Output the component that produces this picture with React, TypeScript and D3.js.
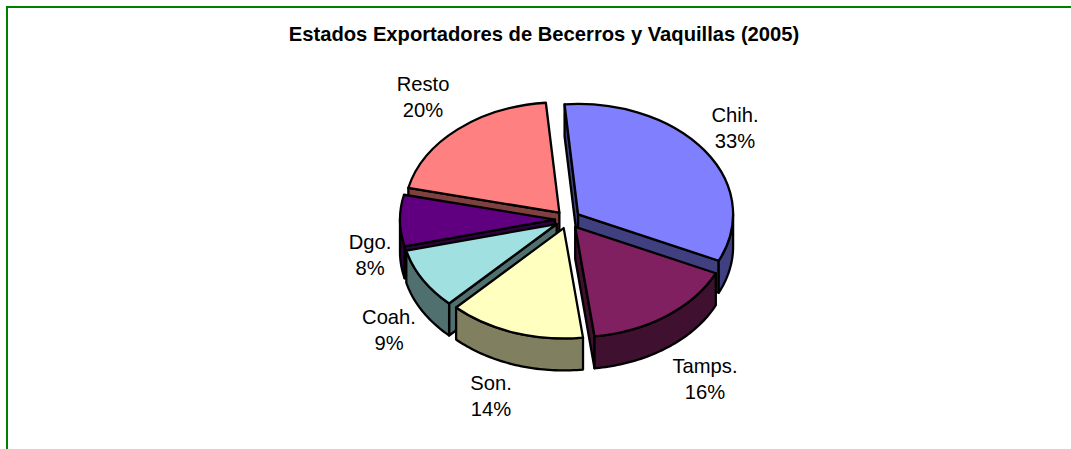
import * as d3 from "d3";

const categories = ["Chih.", "Tamps.", "Son.", "Coah.", "Dgo.", "Resto"];
const shares = [33.3, 16.1, 14.2, 8.9, 7.5, 20];
const topColors = ["#8080ff", "#802060", "#ffffc0", "#a0e0e0", "#600080", "#ff8080"];
const sideColors = ["#404080", "#401030", "#808060", "#507070", "#300040", "#804040"];
const title = "Estados Exportadores de Becerros y Vaquillas (2005)";

const width = 1071;
const height = 449;
const cx = 567.7;
const cy = 219.5;
const radius = 155;
const tilt = 0.712; // ellipse squash of the 3d pie
const depth = 32;
const explode = 12.7;
const rotation = (-5 * Math.PI) / 180;
const fontSize = 20.2;

// label anchor (centre x, first baseline), same order as categories
const labelX = [735, 705, 491, 389, 370, 423];
const labelY = [122, 373, 390, 324, 249, 91];

// back slices first so the front ones paint over them
const drawOrder = [5, 0, 4, 3, 1, 2];

const pie = d3
  .pie<number>()
  .sort(null)
  .startAngle(rotation)
  .endAngle(rotation + 2 * Math.PI);
const slices = pie(shares);

const arcGen = d3.arc<d3.PieArcDatum<number>>().innerRadius(0).outerRadius(radius);
const line = d3.line();

const project = (a: number, r: number, dy = 0): [number, number] => {
  const [x, y] = d3.pointRadial(a, r);
  return [x, y * tilt + dy];
};

// side wall along the rim, only the part facing the viewer
const rimWall = (a0: number, a1: number) => {
  const from = Math.max(a0, Math.PI / 2);
  const to = Math.min(a1, (3 * Math.PI) / 2);
  if (to <= from) return null;
  const steps = d3.range(from, to, 0.02).concat(to);
  const top = steps.map((a) => project(a, radius));
  const bottom = steps.map((a) => project(a, radius, depth)).reverse();
  return line([...top, ...bottom]) + "Z";
};

const radialWall = (a: number) =>
  line([[0, 0], project(a, radius), project(a, radius, depth), [0, depth]]) + "Z";

const strokeProps = {
  stroke: "#000",
  strokeWidth: 2.3,
  strokeLinejoin: "round" as const,
};

export default function App() {
  return (
    <svg
      width={width}
      height={height}
      style={{ position: "absolute", left: 0, top: 0, background: "#fff" }}
      fontFamily="'Liberation Sans', Arial, sans-serif"
    >
      <path d={`M7,${height}V7H${width}`} fill="none" stroke="#008000" strokeWidth={2} />
      <text x={544} y={41} textAnchor="middle" fontSize={fontSize} fontWeight="bold" fill="#000">
        {title}
      </text>

      {drawOrder.map((i) => {
        const s = slices[i];
        const mid = (s.startAngle + s.endAngle) / 2;
        const [ox, oy] = project(mid, explode);
        const rim = rimWall(s.startAngle, s.endAngle);
        return (
          <g key={categories[i]} transform={`translate(${cx + ox},${cy + oy})`}>
            {/* only the cut faces turned toward the viewer */}
            {Math.sin(s.startAngle) < 0 && (
              <path d={radialWall(s.startAngle)} fill={sideColors[i]} {...strokeProps} />
            )}
            {Math.sin(s.endAngle) > 0 && (
              <path d={radialWall(s.endAngle)} fill={sideColors[i]} {...strokeProps} />
            )}
            {rim && <path d={rim} fill={sideColors[i]} {...strokeProps} />}
            <path
              d={arcGen(s) as string}
              transform={`scale(1,${tilt})`}
              fill={topColors[i]}
              vectorEffect="non-scaling-stroke"
              {...strokeProps}
            />
          </g>
        );
      })}

      {categories.map((c, i) => (
        <text key={c} x={labelX[i]} y={labelY[i]} textAnchor="middle" fontSize={fontSize} fill="#000">
          <tspan x={labelX[i]}>{c}</tspan>
          <tspan x={labelX[i]} dy={25.5}>
            {d3.format(".0%")(Math.round(shares[i]) / 100)}
          </tspan>
        </text>
      ))}
    </svg>
  );
}
